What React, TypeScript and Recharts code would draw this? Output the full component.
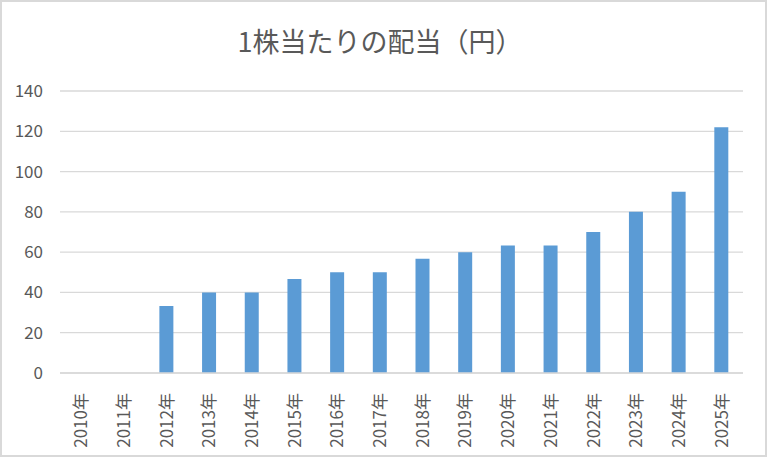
import React from "react";
import { BarChart, Bar, XAxis, YAxis, CartesianGrid } from "recharts";

const years = ["2010年", "2011年", "2012年", "2013年", "2014年", "2015年", "2016年", "2017年", "2018年", "2019年", "2020年", "2021年", "2022年", "2023年", "2024年", "2025年"];
const dividends = [0, 0, 33.3, 40, 40, 46.7, 50, 50, 56.7, 60, 63.3, 63.3, 70, 80, 90, 122];
const yTicks = [0, 20, 40, 60, 80, 100, 120, 140];
const title = "1株当たりの配当（円）";

const data = years.map((y, i) => ({ year: y, value: dividends[i] }));

const FONT = "'Noto Sans CJK JP', 'Noto Sans', sans-serif";
const TEXT = "#595959";

const XTick = (props: any) => {
  const { x, y, payload } = props;
  const ty = y + 12;
  return (
    <text
      x={x}
      y={ty}
      transform={`rotate(-90, ${x}, ${ty})`}
      textAnchor="end"
      dy="0.35em"
      fill={TEXT}
      fontSize={17}
      fontFamily={FONT}
    >
      {payload.value}
    </text>
  );
};

export default function App() {
  return (
    <div
      style={{
        position: "absolute",
        left: 0,
        top: 0,
        width: 767,
        height: 457,
        boxSizing: "border-box",
        border: "2px solid #d9d9d9",
        background: "#fff",
      }}
    >
      <div style={{ position: "absolute", left: -2, top: -2 }}>
        <BarChart
          width={767}
          height={457}
          data={data}
          margin={{ top: 91, right: 24, bottom: 0, left: 0 }}
        >
          <text
            x={380}
            y={52}
            textAnchor="middle"
            fill={TEXT}
            fontSize={27}
            fontFamily={FONT}
          >
            {title}
          </text>
          <CartesianGrid vertical={false} stroke="#d9d9d9" strokeWidth={1.3} />
          <XAxis
            dataKey="year"
            interval={0}
            height={84}
            tickLine={false}
            axisLine={{ stroke: "#d9d9d9", strokeWidth: 1.3 }}
            tick={<XTick />}
          />
          <YAxis
            domain={[0, 140]}
            ticks={yTicks}
            width={60}
            tickLine={false}
            axisLine={false}
            tickSize={0}
            tickMargin={17}
            tick={{ fill: TEXT, fontSize: 17, fontFamily: FONT }}
          />
          <Bar dataKey="value" fill="#5b9bd5" barSize={14} isAnimationActive={false} />
        </BarChart>
      </div>
    </div>
  );
}
